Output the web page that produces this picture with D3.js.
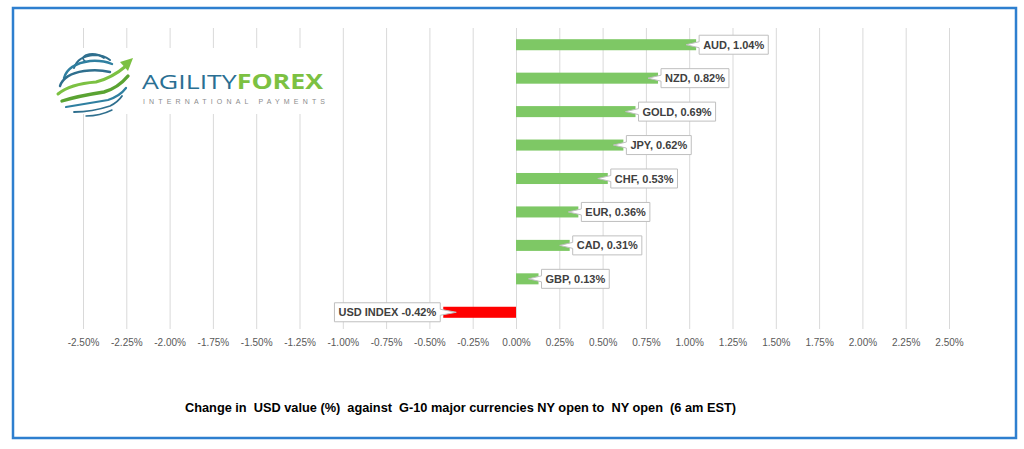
<!DOCTYPE html>
<html>
<head>
<meta charset="utf-8">
<script src="https://cdn.jsdelivr.net/npm/d3@7"></script>
<style>
  body { margin: 0; background: #fff; }
  svg { display: block; }
  .tick text { font-family: "Liberation Sans", Arial, sans-serif; font-size: 10px; fill: #595959; }
  .tick line { stroke: #d9d9d9; }
  .lbl { font-family: "Liberation Sans", Arial, sans-serif; font-size: 11px; font-weight: bold; fill: #404040; }
</style>
</head>
<body>
<div id="chart"></div>
<script>
// chart data
var categories = ["AUD", "NZD", "GOLD", "JPY", "CHF", "EUR", "CAD", "GBP", "USD INDEX"];
var values = [1.04, 0.82, 0.69, 0.62, 0.53, 0.36, 0.31, 0.13, -0.42];
var labels = ["AUD, 1.04%", "NZD, 0.82%", "GOLD, 0.69%", "JPY, 0.62%", "CHF, 0.53%",
              "EUR, 0.36%", "CAD, 0.31%", "GBP, 0.13%", "USD INDEX -0.42%"];
var tickValues = [-2.5, -2.25, -2, -1.75, -1.5, -1.25, -1, -0.75, -0.5, -0.25, 0,
                  0.25, 0.5, 0.75, 1, 1.25, 1.5, 1.75, 2, 2.25, 2.5];
var title = "Change in  USD value (%)  against  G-10 major currencies NY open to  NY open  (6 am EST)";

var svgWidth = 1024, svgHeight = 449;
var plot = { left: 83, right: 949, top: 28, bottom: 329 };

var svg = d3.select("#chart").append("svg")
  .attr("width", svgWidth)
  .attr("height", svgHeight);

// outer blue frame
svg.append("rect")
  .attr("x", 13).attr("y", 8)
  .attr("width", 1003).attr("height", 430)
  .attr("fill", "#fff")
  .attr("stroke", "#2e7fcf")
  .attr("stroke-width", 2.5);

var x = d3.scaleLinear().domain([-2.5, 2.5]).range([plot.left, plot.right]);
var y = d3.scaleBand().domain(categories).range([plot.top, plot.bottom])
  .paddingInner(0.67).paddingOuter(0.335);

// gridlines + tick labels
var xAxis = d3.axisBottom(x)
  .tickValues(tickValues)
  .tickSize(-(plot.bottom - plot.top))
  .tickPadding(10)
  .tickFormat(d => d.toFixed(2) + "%");

var axisG = svg.append("g")
  .attr("transform", `translate(0, ${plot.bottom})`)
  .call(xAxis);
axisG.select(".domain").remove();
axisG.selectAll(".tick line").attr("stroke", "#d9d9d9");

// logo (sits on white patch over the grid)
var logo = svg.append("g");
logo.append("rect").attr("x", 50).attr("y", 48).attr("width", 290).attr("height", 66).attr("fill", "#fff");

var swooshes = [
  { d: "M86,62 Q80,58 86,55 Q96,52 104,58", c: "#2f6f8e", w: 1.8 },
  { d: "M74,68 Q78,56 94,55 Q104,55 110,60", c: "#2f6f8e", w: 2 },
  { d: "M64,78 Q68,64 90,61 Q102,60 112,64", c: "#2f7fa0", w: 2.4 },
  { d: "M60,86 Q64,74 84,71 Q98,69 110,72", c: "#2f6f8e", w: 2.4 },
  { d: "M58,94 Q70,84 96,82 Q112,78 126,66", c: "#7cc142", w: 3 },
  { d: "M62,101 Q78,96 104,92 Q118,88 128,76", c: "#5aa332", w: 3.4 },
  { d: "M66,107 Q84,104 108,100 Q120,96 126,88", c: "#2f7fa0", w: 2.2 },
  { d: "M74,112 Q92,112 110,106 Q118,102 122,96", c: "#2f6f8e", w: 1.8 },
  { d: "M86,116 Q100,116 112,110", c: "#2f6f8e", w: 1.4 }
];
logo.selectAll("path.sw").data(swooshes).enter().append("path")
  .attr("class", "sw")
  .attr("d", d => d.d)
  .attr("fill", "none")
  .attr("stroke", d => d.c)
  .attr("stroke-width", d => d.w)
  .attr("stroke-linecap", "round");
// arrow head
logo.append("path")
  .attr("d", "M120,62 L133,58 L128,71 Z")
  .attr("fill", "#7cc142");

var brand = logo.append("text")
  .attr("x", 142).attr("y", 89)
  .attr("font-family", "'Open Sans', 'DejaVu Sans', sans-serif")
  .attr("font-size", 20.5)
  .attr("font-weight", 400)
  .attr("textLength", 181)
  .attr("lengthAdjust", "spacingAndGlyphs");
brand.append("tspan").attr("fill", "#2a6f93").text("AGILITY");
brand.append("tspan").attr("fill", "#7cc142").attr("font-weight", 700).text("FOREX");

logo.append("text")
  .attr("x", 143).attr("y", 104)
  .attr("font-family", "'Liberation Sans', Arial, sans-serif")
  .attr("font-size", 7)
  .attr("fill", "#8c8c8c")
  .attr("textLength", 182)
  .attr("lengthAdjust", "spacing")
  .text("INTERNATIONAL PAYMENTS");

// bars
svg.selectAll("rect.bar").data(values).enter().append("rect")
  .attr("class", "bar")
  .attr("x", d => x(Math.min(0, d)))
  .attr("y", (d, i) => y(categories[i]))
  .attr("width", d => Math.abs(x(d) - x(0)))
  .attr("height", y.bandwidth())
  .attr("fill", d => d < 0 ? "#ff0000" : "#7ec865");

// data callouts
values.forEach(function(v, i) {
  var cy = y(categories[i]) + y.bandwidth() / 2;
  var end = x(v);
  var g = svg.append("g");
  var path = g.append("path");
  var t = g.append("text").attr("class", "lbl").text(labels[i]);
  var tw = t.node().getComputedTextLength();
  var bw = tw + 8, bh = 19, top = cy - bh / 2, bot = cy + bh / 2;
  var d;
  if (v >= 0) {
    var left = end + 3, tip = end - 10;
    d = `M${left},${top} H${left + bw} V${bot} H${left} V${cy + 3} L${tip},${cy} L${left},${cy - 3} Z`;
    t.attr("x", left + 4);
  } else {
    var right = end - 3, tip2 = end + 13, left2 = right - bw;
    d = `M${left2},${top} H${right} V${cy - 3} L${tip2},${cy} L${right},${cy + 3} V${bot} H${left2} Z`;
    t.attr("x", left2 + 4);
  }
  t.attr("y", cy + 4);
  path.attr("d", d).attr("fill", "#fff").attr("stroke", "#bfbfbf").attr("stroke-width", 1);
});

// caption below the chart
svg.append("text")
  .attr("x", 185).attr("y", 412)
  .attr("font-family", "'Liberation Sans', Arial, sans-serif")
  .attr("font-size", 12)
  .attr("font-weight", "bold")
  .attr("fill", "#000")
  .style("white-space", "pre")
  .attr("textLength", 551)
  .attr("lengthAdjust", "spacingAndGlyphs")
  .text(title);
</script>
</body>
</html>
